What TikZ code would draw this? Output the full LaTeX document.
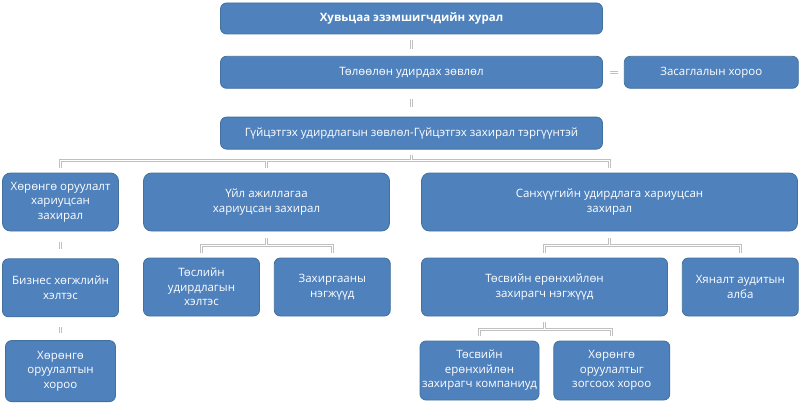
\documentclass[tikz,border=0pt]{standalone}
\usepackage{fontspec}
\setmainfont{Open Sans}
\usetikzlibrary{positioning,calc}
\definecolor{unitfill}{HTML}{4F81BD}
\definecolor{unitedge}{HTML}{41719C}
\definecolor{linkgray}{HTML}{C0C0C0}

\begin{document}
\begin{tikzpicture}[
    x=1pt, y=1pt,
    unit/.style ={
        rectangle,
        rounded corners=6pt,
        fill=unitfill,
        draw=unitedge,
        line width=0.8pt,
        text=white,
        align=center,
        inner sep=2pt,
        font=\fontsize{11.5}{14.5}\selectfont,
    },
    box/.style args={#1/#2}{
        unit,
        minimum width=#1pt,
        minimum height=#2pt,
    },
    link/.style ={
        draw=linkgray,
        line width=1pt,
        double=white,
        double distance=1pt,
    }
    ]
    \useasboundingbox (0,0) rectangle (800,-404);
    % top of the tree
    \node[box=382/31] (share) at (411.5,-18.5) {\textbf{Хувьцаа эзэмшигчдийн хурал}};
    \node[box=382/32, below=21.5pt of share] (board) {Төлөөлөн удирдах зөвлөл};
    \node[box=174/32, right=21pt of board] (gov) {Засаглалын хороо};
    \node[box=382/32, below=28pt of board] (exec) {Гүйцэтгэх удирдлагын зөвлөл-Гүйцэтгэх захирал тэргүүнтэй};
    % directors
    \node[box=116/58, rounded corners=8pt] (invdir) at (60.5,-202) {Хөрөнгө оруулалт\\хариуцсан\\захирал};
    \node[box=246/58, rounded corners=8pt] (opdir) at (266.5,-202) {Үйл ажиллагаа\\хариуцсан захирал};
    \node[box=376/58, rounded corners=8pt] (findir) at (609.5,-202) {Санхүүгийн удирдлага хариуцсан\\захирал};
    % units
    \node[box=116/58, below=27pt of invdir] (bizdev) {Бизнес хөгжлийн\\хэлтэс};
    \node[box=116/58] (proj) at (201.5,-287) {Төслийн\\удирдлагын\\хэлтэс};
    \node[box=116/58, right=14pt of proj] (admin) {Захиргааны\\нэгжүүд};
    \node[box=246/58] (budget) at (544.5,-287) {Төсвийн ерөнхийлөн\\захирагч нэгжүүд};
    \node[box=116/58, right=14pt of budget] (audit) {Хяналт аудитын\\алба};
    % bottom row
    \node[box=110/61, below=23pt of bizdev] (invcom) {Хөрөнгө\\оруулалтын\\хороо};
    \node[box=116/59] (budcomp) at (479.5,-370.5) {Төсвийн\\ерөнхийлөн\\захирагч компаниуд};
    \node[box=116/59, right=14pt of budcomp] (stopcom) {Хөрөнгө\\оруулалтыг\\зогсоох хороо};

    \coordinate (bus2) at (411.5,-160.5);
    \coordinate (bus3a) at (266.5,-245.5);
    \coordinate (bus3b) at (609.5,-245.5);
    \coordinate (bus4) at (544.5,-329.5);

    \draw[link] ($(share.south)+(0,-6)$) -- ($(board.north)+(0,7)$);
    \draw[link] ($(board.east)+(7,0)$) -- ($(gov.west)+(-6,0)$);
    \draw[link] ($(board.south)+(0,-10)$) -- ($(exec.north)+(0,10)$);
    \draw[link] ($(exec.south)+(0,-5)$) -- (bus2)
        \foreach \kid in {invdir,opdir,findir} {(bus2) -| ($(\kid.north)+(0,5)$)};
    \draw[link] ($(invdir.south)+(0,-11)$) -- ($(bizdev.north)+(0,9)$);
    \draw[link] ($(bizdev.south)+(0,-10)$) -- ($(invcom.north)+(0,7)$);
    \draw[link] ($(opdir.south)+(0,-7)$) -- (bus3a)
        \foreach \kid in {proj,admin} {(bus3a) -| ($(\kid.north)+(0,5)$)};
    \draw[link] ($(findir.south)+(0,-7)$) -- (bus3b)
        \foreach \kid in {budget,audit} {(bus3b) -| ($(\kid.north)+(0,5)$)};
    \draw[link] ($(budget.south)+(0,-6)$) -- (bus4)
        \foreach \kid in {budcomp,stopcom} {(bus4) -| ($(\kid.north)+(0,5)$)};
\end{tikzpicture}
\end{document}
